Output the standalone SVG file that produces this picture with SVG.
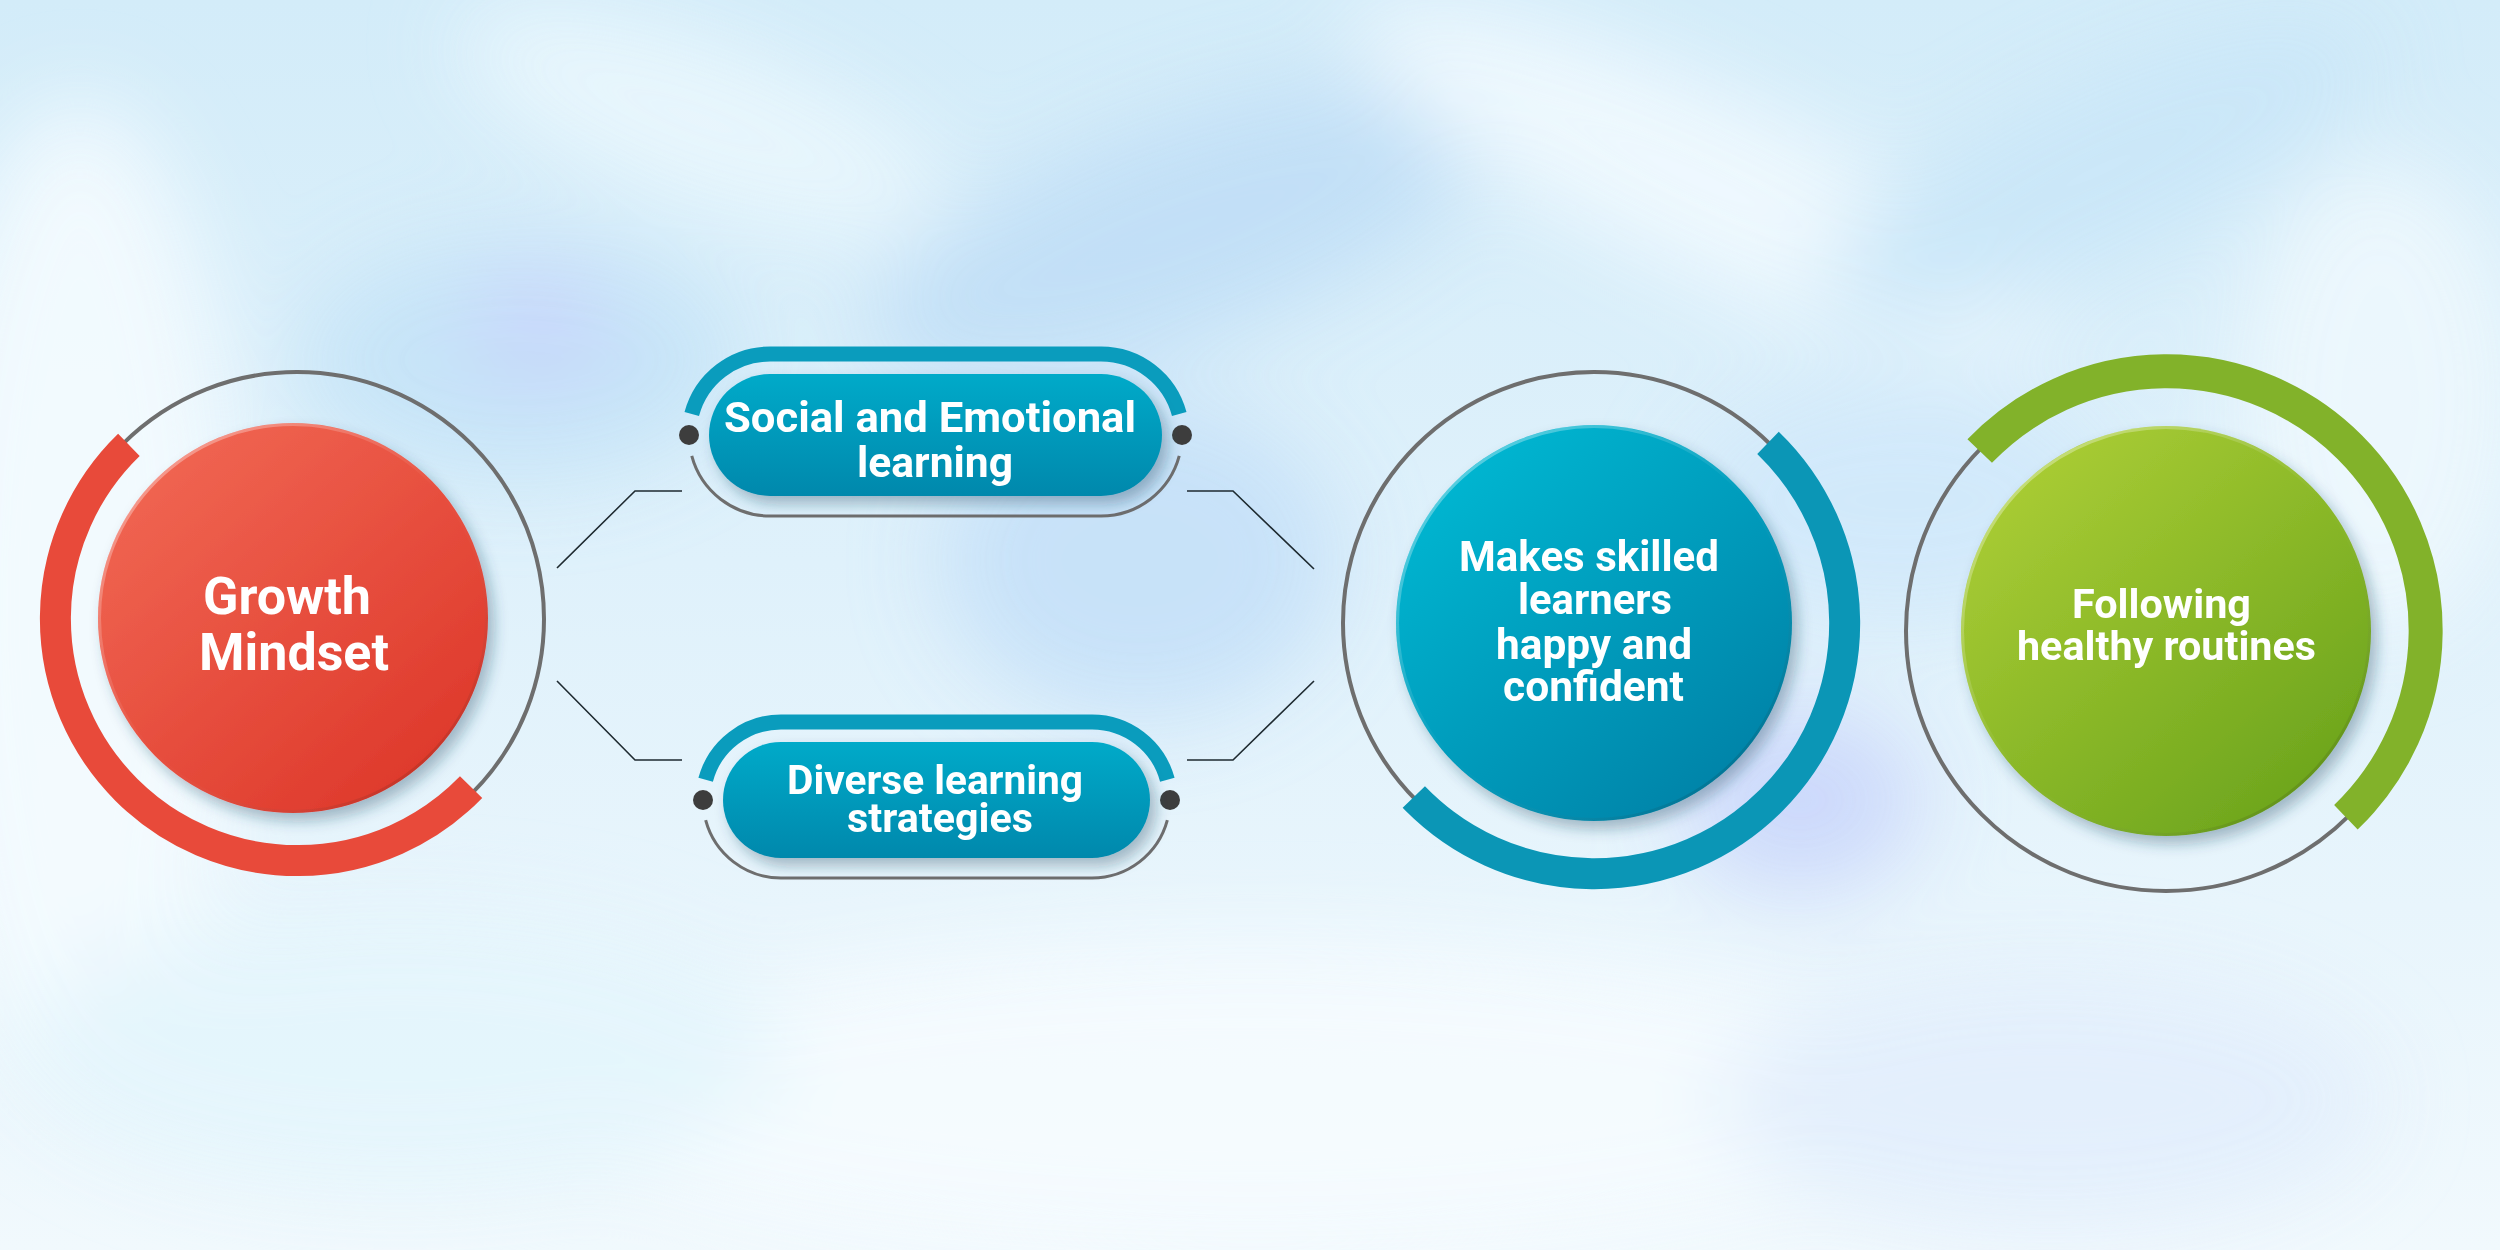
<svg xmlns="http://www.w3.org/2000/svg" width="2500" height="1250" viewBox="0 0 2500 1250">
<defs>
<style>
.lbl{font-family:Roboto,"Liberation Sans",Arial,sans-serif;font-weight:700;fill:#ffffff;}
.ring{fill:none;stroke:#6e6e6e;stroke-width:4;}
.thin{fill:none;stroke:#6e6e6e;stroke-width:3;}
.conn{fill:none;stroke:#1e2a30;stroke-width:1.6;}
.dot{fill:#3d3d3d;}
.pillarc{fill:none;stroke:#0a9cbd;stroke-width:15;}
</style>
<linearGradient id="bgv" x1="0" y1="0" x2="0" y2="1">
<stop offset="0" stop-color="#d3ecf9"/>
<stop offset="0.45" stop-color="#dff1fb"/>
<stop offset="1" stop-color="#f1f9fd"/>
</linearGradient>
<filter id="blur" x="-20%" y="-20%" width="140%" height="140%"><feGaussianBlur stdDeviation="45"/></filter>
<filter id="shadow" x="-20%" y="-20%" width="140%" height="140%">
<feGaussianBlur in="SourceAlpha" stdDeviation="7"/>
<feOffset dx="6" dy="8" result="b"/>
<feFlood flood-color="#1d4a63" flood-opacity="0.35"/>
<feComposite in2="b" operator="in"/>
<feMerge><feMergeNode/><feMergeNode in="SourceGraphic"/></feMerge>
</filter>
<linearGradient id="gRed" x1="0.15" y1="0.1" x2="0.85" y2="0.9">
<stop offset="0" stop-color="#f06552"/>
<stop offset="1" stop-color="#de392b"/>
</linearGradient>
<linearGradient id="gTeal" x1="0.15" y1="0.1" x2="0.85" y2="0.9">
<stop offset="0" stop-color="#05b6d1"/>
<stop offset="1" stop-color="#0083a8"/>
</linearGradient>
<linearGradient id="gGreen" x1="0.15" y1="0.1" x2="0.85" y2="0.9">
<stop offset="0" stop-color="#a9cc34"/>
<stop offset="1" stop-color="#6da51d"/>
</linearGradient>
<linearGradient id="gPill" x1="0" y1="0" x2="0" y2="1">
<stop offset="0" stop-color="#05aac9"/>
<stop offset="1" stop-color="#0088ac"/>
</linearGradient>
<linearGradient id="rim" x1="0.15" y1="0.1" x2="0.85" y2="0.9">
<stop offset="0" stop-color="#ffffff" stop-opacity="0.35"/>
<stop offset="0.5" stop-color="#ffffff" stop-opacity="0"/>
<stop offset="1" stop-color="#000000" stop-opacity="0.12"/>
</linearGradient>
</defs>

<!-- background -->
<rect x="0" y="0" width="2500" height="1250" fill="url(#bgv)"/>
<g filter="url(#blur)" opacity="0.9">
<ellipse cx="80" cy="600" rx="160" ry="500" fill="#f4fbfe"/>
<ellipse cx="520" cy="360" rx="220" ry="120" fill="#c4e3f7"/>
<ellipse cx="540" cy="330" rx="70" ry="60" fill="#c6d3fb"/>
<ellipse cx="1180" cy="230" rx="330" ry="110" fill="#c0def6" transform="rotate(-20 1180 230)"/>
<ellipse cx="1700" cy="180" rx="380" ry="90" fill="#f1f9fe" transform="rotate(25 1700 180)"/>
<ellipse cx="2100" cy="170" rx="300" ry="90" fill="#c9e6f8" transform="rotate(-25 2100 170)"/>
<ellipse cx="2380" cy="400" rx="140" ry="240" fill="#eef8fd"/>
<ellipse cx="1140" cy="560" rx="200" ry="160" fill="#c5e0f8"/>
<ellipse cx="1800" cy="800" rx="120" ry="90" fill="#c9d5fb"/>
<ellipse cx="700" cy="120" rx="260" ry="80" fill="#eaf7fd" transform="rotate(20 700 120)"/>
<ellipse cx="1250" cy="1100" rx="700" ry="160" fill="#f5fbfe"/>
<ellipse cx="400" cy="1050" rx="380" ry="140" fill="#e4f5fc"/>
<ellipse cx="2050" cy="1100" rx="330" ry="130" fill="#e2eefc"/>
<ellipse cx="1900" cy="500" rx="220" ry="120" fill="#d0e8fa"/>
</g>

<!-- connectors -->
<g id="connectors">
<path class="conn" d="M557,568 L635,491 L682,491"/>
<path class="conn" d="M557,681 L635,760 L682,760"/>
<path class="conn" d="M1187,491 L1233,491 L1314,569"/>
<path class="conn" d="M1187,760 L1233,760 L1314,681"/>
</g>

<!-- Growth Mindset -->
<g id="node-growth">
<circle class="ring" cx="297" cy="619" r="247"/>
<path d="M471.1,787.1 A242,242 0 1 1 128.9,444.9" fill="none" stroke="#e84a3a" stroke-width="31"/>
<circle cx="293" cy="618" r="195" fill="url(#gRed)" filter="url(#shadow)"/>
<circle cx="293" cy="618" r="193.5" fill="none" stroke="url(#rim)" stroke-width="3"/>
<text class="lbl" font-size="52" x="203" y="614" textLength="168" lengthAdjust="spacingAndGlyphs">Growth</text>
<text class="lbl" font-size="52" x="199" y="670" textLength="190" lengthAdjust="spacingAndGlyphs">Mindset</text>
</g>

<!-- Social and Emotional learning -->
<g id="node-social">
<path class="pillarc" d="M691.76,414.04 A81,81 0 0 1 770,354 L1101,354 A81,81 0 0 1 1179.24,414.04"/>
<path class="thin" d="M691.76,455.96 A81,81 0 0 0 770,516 L1101,516 A81,81 0 0 0 1179.24,455.96"/>
<circle class="dot" cx="689" cy="435" r="10"/>
<circle class="dot" cx="1182" cy="435" r="10"/>
<rect x="709" y="374" width="453" height="122" rx="61" fill="url(#gPill)" filter="url(#shadow)"/>
<text class="lbl" font-size="42" x="724" y="432" textLength="412" lengthAdjust="spacingAndGlyphs">Social and Emotional</text>
<text class="lbl" font-size="42" x="857" y="477" textLength="156" lengthAdjust="spacingAndGlyphs">learning</text>
</g>

<!-- Diverse learning strategies -->
<g id="node-diverse">
<path class="pillarc" d="M705.66,779.81 A78,78 0 0 1 781,722 L1092,722 A78,78 0 0 1 1167.34,779.81"/>
<path class="thin" d="M705.66,820.19 A78,78 0 0 0 781,878 L1092,878 A78,78 0 0 0 1167.34,820.19"/>
<circle class="dot" cx="703" cy="800" r="10"/>
<circle class="dot" cx="1170" cy="800" r="10"/>
<rect x="723" y="742" width="427" height="116" rx="58" fill="url(#gPill)" filter="url(#shadow)"/>
<text class="lbl" font-size="41" x="787" y="794" textLength="296" lengthAdjust="spacingAndGlyphs">Diverse learning</text>
<text class="lbl" font-size="41" x="847" y="832" textLength="186" lengthAdjust="spacingAndGlyphs">strategies</text>
</g>

<!-- Makes skilled learners happy and confident -->
<g id="node-makes">
<circle class="ring" cx="1594" cy="623" r="251"/>
<path d="M1768.0,442.8 A250.5,250.5 0 1 1 1413.8,797.0" fill="none" stroke="#0b96b6" stroke-width="31"/>
<circle cx="1594" cy="623" r="198" fill="url(#gTeal)" filter="url(#shadow)"/>
<circle cx="1594" cy="623" r="196.5" fill="none" stroke="url(#rim)" stroke-width="3"/>
<text class="lbl" font-size="42" x="1459" y="571" textLength="260" lengthAdjust="spacingAndGlyphs">Makes skilled</text>
<text class="lbl" font-size="42" x="1518" y="614" textLength="154" lengthAdjust="spacingAndGlyphs">learners</text>
<text class="lbl" font-size="42" x="1496" y="659" textLength="196" lengthAdjust="spacingAndGlyphs">happy and</text>
<text class="lbl" font-size="42" x="1503" y="701" textLength="181" lengthAdjust="spacingAndGlyphs">confident</text>
</g>

<!-- Following healthy routines -->
<g id="node-following">
<circle class="ring" cx="2166" cy="631" r="260"/>
<path d="M1979.7,451.1 A259,259 0 1 1 2345.9,817.3" fill="none" stroke="#82b22a" stroke-width="34"/>
<circle cx="2166" cy="631" r="205" fill="url(#gGreen)" filter="url(#shadow)"/>
<circle cx="2166" cy="631" r="203.5" fill="none" stroke="url(#rim)" stroke-width="3"/>
<text class="lbl" font-size="41" x="2072" y="618" textLength="179" lengthAdjust="spacingAndGlyphs">Following</text>
<text class="lbl" font-size="41" x="2017" y="660" textLength="299" lengthAdjust="spacingAndGlyphs">healthy routines</text>
</g>
</svg>
